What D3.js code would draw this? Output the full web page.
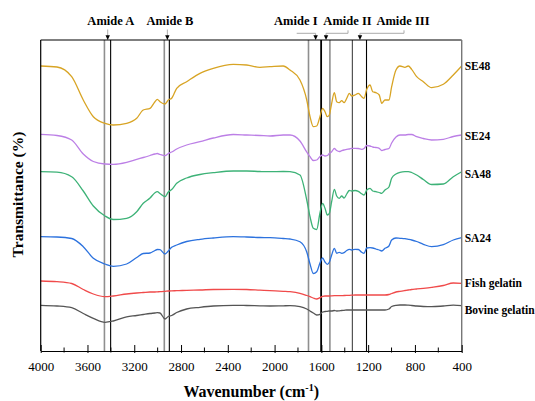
<!DOCTYPE html>
<html>
<head>
<meta charset="utf-8">
<script src="https://cdn.jsdelivr.net/npm/d3@7"></script>
<style>
  html, body { margin: 0; padding: 0; background: #fff; }
  svg { display: block; }
  text { font-family: "Liberation Serif", "Times New Roman", serif; }
</style>
</head>
<body>
<svg id="chart" width="535" height="401"></svg>
<script>
// ---------------- DATA ----------------
const wavenumbers = [4000, 3861, 3735, 3636, 3550, 3450, 3379, 3265, 3179, 3123, 3065, 3023, 3003, 2980, 2937, 2909, 2880, 2837, 2752, 2638,
  2524, 2353, 2239, 2125, 2039, 1926, 1868, 1783, 1725, 1697, 1669, 1640, 1612, 1589, 1569, 1549, 1532, 1512, 1489, 1469,
  1447, 1426, 1406, 1383, 1361, 1341, 1312, 1284, 1255, 1235, 1212, 1184, 1161, 1133, 1105, 1084, 1056, 1022, 999, 962,
  928, 885, 857, 828, 785, 728, 657, 557, 472, 400];

const seriesNames = ["SE48", "SE24", "SA48", "SA24", "Fish gelatin", "Bovine gelatin"];

const SE48 = [285, 284, 274.3, 251, 234.3, 227.7, 226, 227.7, 232.7, 241, 242.7, 249.3, 251.7, 249.3, 247, 251, 252.7, 262.7, 269.3, 277.7,
  282.7, 286.7, 286, 283.7, 284.3, 285, 281, 271, 251, 234.3, 224.3, 225, 234.3, 242.7, 239.3, 234.3, 236, 247.7, 258.3, 249.3,
  248.3, 250.3, 248.3, 252.7, 257.7, 255, 256, 257.7, 254.3, 252.7, 261.7, 266, 259.3, 258.3, 256, 247.7, 251, 251, 264.3, 281,
  285, 283.7, 285, 281.7, 274.3, 269.3, 263.3, 266.7, 276, 285];

const SE24 = [216.7, 215.5, 211, 197, 189.5, 187, 186.7, 188.7, 191.7, 193.5, 195.5, 197, 197.5, 196.5, 195.3, 197.5, 199, 202, 206, 209.3,
  213, 216.5, 216, 215.5, 215, 216, 216, 210, 199, 194.3, 190.5, 191, 194.5, 196, 195, 195.5, 197.5, 199.3, 202.5, 200.5,
  199.5, 200.3, 201, 201.7, 202, 202.7, 202.7, 202.5, 201.7, 202.5, 205.5, 205, 204, 203.5, 202.7, 200.5, 201.5, 202.5, 208, 214,
  216, 216, 216.5, 216.5, 214.3, 212.5, 211, 211.7, 214.5, 216];

const SA48 = [179.3, 178.8, 174.3, 160, 145, 135, 131.5, 132.7, 139.3, 147.7, 153, 158.3, 159.3, 157.5, 154.3, 159, 161.5, 167.7, 173, 176.5,
  178.3, 180, 180, 179.5, 179.3, 179.5, 179.3, 176, 151, 134.3, 122.7, 121.5, 138, 147.7, 142.7, 136, 137.7, 149.3, 161.7, 155,
  152.7, 155, 153, 157, 160.5, 160, 160.5, 159.7, 157.3, 156, 161, 162.7, 160, 159.3, 158.5, 157.7, 161, 164, 172.7, 177,
  178.7, 179.3, 179.3, 178.5, 176, 171.5, 166.5, 167, 174.3, 179.3];

const SA24 = [114.3, 114, 112.5, 104.3, 92.7, 87, 84.7, 87, 93.5, 97.5, 98, 100.5, 101.5, 101.3, 97, 100, 103.7, 106, 109.5, 111.7,
  113, 114.3, 114, 113.5, 113.3, 112.5, 112, 109.3, 99, 87, 77.5, 79.3, 88, 93, 89, 86.7, 88.7, 96, 102.7, 97.7,
  98.7, 97.7, 98.3, 100.5, 101.7, 101, 101.7, 101.5, 98.7, 97.7, 103, 103.3, 103, 102, 101, 100, 102.7, 105, 111, 113,
  112.7, 112.3, 111.7, 111, 109.5, 106.7, 104.3, 106.3, 111, 113.3];

const FishGelatin = [70, 69.3, 67.5, 61.5, 57, 54.3, 55, 57, 58, 58.5, 59, 59, 59.2, 59.3, 59.7, 60, 60.2, 60.3, 60.7, 61,
  61.5, 61.7, 61.5, 60.8, 60.3, 59.7, 59.3, 57.7, 55.5, 54.3, 53, 52, 53.3, 54.7, 55, 55, 55, 55.2, 55.3, 55.3,
  55.3, 55.4, 55.5, 55.6, 55.7, 55.8, 56, 56, 56, 56, 56, 56, 56, 56, 56, 56, 56, 56.5, 57.5, 59,
  59.7, 60.5, 61, 61.5, 62, 62.7, 63.7, 65.5, 68, 67.7];

const BovineGelatin = [45.7, 45, 43.3, 37.5, 32.7, 28.7, 30, 34.2, 35.5, 36.5, 37.5, 38, 38.3, 38, 32, 34.5, 35.5, 38.5, 42, 43.7,
  45, 45.7, 45.5, 45.2, 45, 45.2, 45.3, 44.3, 42, 40, 38, 36, 36.7, 39, 39.5, 39.7, 40, 40, 40.5, 40,
  40.2, 40.5, 40.7, 41, 41, 41, 41, 41, 41, 41, 41, 41, 41, 41, 41, 41, 41, 42, 44.5, 45.7,
  46, 46, 45.8, 45.5, 45, 44.5, 44.3, 45, 45.8, 45.3];

const xTicks = [4000, 3600, 3200, 2800, 2400, 2000, 1600, 1200, 800, 400];

// marker bands (cm-1)
const bandLabels = ["Amide A", "Amide B", "Amide I", "Amide II", "Amide III"];
const bandArrows = [3427, 2917, 1649, 1560, 1270];
const bandLinesGray = [3455, 2943, 1710, 1527];
const bandLinesBlack = [3402, 2900, 1602, 1335, 1214];

// ---------------- LAYOUT ----------------
const allSeries = [SE48, SE24, SA48, SA24, FishGelatin, BovineGelatin];
const colors = ["#D8A424", "#BC7FE6", "#3DB277", "#2C72DE", "#F04A4A", "#555555"];
const labelDy = [0, 1, 2.5, 0.5, 0, 4.5];

const svg = d3.select("#chart");
const margin = { left: 40.7, top: 40, right: 535 - 461.7, bottom: 401 - 351 };
const W = 535, H = 401;

const x = d3.scaleLinear().domain([4000, 400]).range([margin.left, W - margin.right]);
const y = d3.scaleLinear().domain([0, 311]).range([H - margin.bottom, margin.top]);

// vertical band lines
svg.append("g").selectAll("line").data(bandLinesGray).join("line")
  .attr("x1", d => x(d)).attr("x2", d => x(d))
  .attr("y1", y(311)).attr("y2", y(0))
  .attr("stroke", "#8f8f8f").attr("stroke-width", 1.6);
svg.append("g").selectAll("line").data(bandLinesBlack).join("line")
  .attr("x1", d => x(d)).attr("x2", d => x(d))
  .attr("y1", y(311)).attr("y2", y(0))
  .attr("stroke", (d, i) => i === 3 ? "#444" : "#000")
  .attr("stroke-width", (d, i) => i === 2 ? 1.8 : 1.1);

// series
const line = d3.line()
  .x((d, i) => x(wavenumbers[i]))
  .y(d => y(d))
  .curve(d3.curveMonotoneX);

svg.append("g").selectAll("path").data(allSeries).join("path")
  .attr("d", d => line(d))
  .attr("fill", "none")
  .attr("stroke", (d, i) => colors[i])
  .attr("stroke-width", 1.3)
  .attr("stroke-linejoin", "round");

// frame
const x0 = x(4000), x1 = x(400), yTop = y(311), yBot = y(0);
svg.append("line").attr("x1", x0).attr("x2", x1).attr("y1", yTop).attr("y2", yTop).attr("stroke", "#000").attr("stroke-width", 1.2);
svg.append("line").attr("x1", x0).attr("x2", x0).attr("y1", yTop).attr("y2", yBot).attr("stroke", "#000").attr("stroke-width", 1.2);
svg.append("line").attr("x1", x1).attr("x2", x1).attr("y1", yTop).attr("y2", yBot).attr("stroke", "#777").attr("stroke-width", 1.4);

// x axis
const minorTicks = d3.range(3800, 400, -400);
svg.append("g").selectAll("line").data(minorTicks).join("line")
  .attr("x1", d => x(d)).attr("x2", d => x(d))
  .attr("y1", yBot - 3.5).attr("y2", yBot + 1.5)
  .attr("stroke", "#000").attr("stroke-width", 1);
const xAxis = svg.append("g").attr("transform", `translate(0,${yBot})`)
  .call(d3.axisBottom(x).tickValues(xTicks).tickSizeInner(-6).tickSizeOuter(0).tickPadding(11).tickFormat(d3.format("d")));
xAxis.select(".domain").attr("stroke", "#000").attr("stroke-width", 1.2);
xAxis.selectAll(".tick line").attr("stroke", "#000").attr("stroke-width", 1).attr("y2", -6).attr("y1", 2);
xAxis.selectAll(".tick text")
  .attr("font-family", "'Liberation Serif', serif")
  .attr("font-size", 13).attr("fill", "#000");

// axis titles
const xt = svg.append("text")
  .attr("x", (x0 + x1) / 2).attr("y", 397)
  .attr("text-anchor", "middle")
  .attr("font-size", 16).attr("font-weight", "bold").attr("fill", "#000");
xt.append("tspan").text("Wavenumber (cm");
xt.append("tspan").text("-1").attr("font-size", 10).attr("dy", -6);
xt.append("tspan").text(")").attr("dy", 6);

svg.append("text")
  .attr("transform", `translate(23,${(yTop + yBot) / 2 - 1}) rotate(-90)`)
  .attr("text-anchor", "middle")
  .attr("font-size", 15.5).attr("font-weight", "bold").attr("fill", "#000")
  .text("Transmittance (%)");

// series labels
svg.append("g").selectAll("text").data(seriesNames).join("text")
  .attr("x", x1 + 3)
  .attr("y", (d, i) => y(allSeries[i][allSeries[i].length - 1]) + labelDy[i])
  .attr("dy", "0.35em")
  .attr("font-size", 11.5).attr("font-weight", "bold").attr("fill", "#000")
  .text(d => d);

// band labels and connectors
const labelCenters = [110.8, 170, 295.8, 347.5, 403];
const connectorStart = [null, null, 296.7, 348, 404];
const gAnn = svg.append("g");
bandLabels.forEach((lab, i) => {
  gAnn.append("text")
    .attr("x", labelCenters[i]).attr("y", 24.5)
    .attr("text-anchor", "middle")
    .attr("font-size", 12.5).attr("font-weight", "bold").attr("fill", "#000")
    .text(lab);
  const ax = x(bandArrows[i]);
  const hy = 33.3;
  if (connectorStart[i] === null) {
    gAnn.append("line").attr("x1", ax).attr("x2", ax).attr("y1", 29.5).attr("y2", 36)
      .attr("stroke", "#aaa").attr("stroke-width", 1);
  } else {
    const sx = connectorStart[i];
    const pts = (i === 2) ? [[sx, hy], [ax, hy], [ax, 36]] : [[sx, 30.3], [sx, hy], [ax, hy], [ax, 36]];
    gAnn.append("path").attr("d", d3.line()(pts)).attr("fill", "none")
      .attr("stroke", "#aaa").attr("stroke-width", 1);
  }
  gAnn.append("path")
    .attr("d", `M${ax - 2.2},35.3 L${ax + 2.2},35.3 L${ax},40 Z`)
    .attr("fill", "#000");
});
</script>
</body>
</html>
